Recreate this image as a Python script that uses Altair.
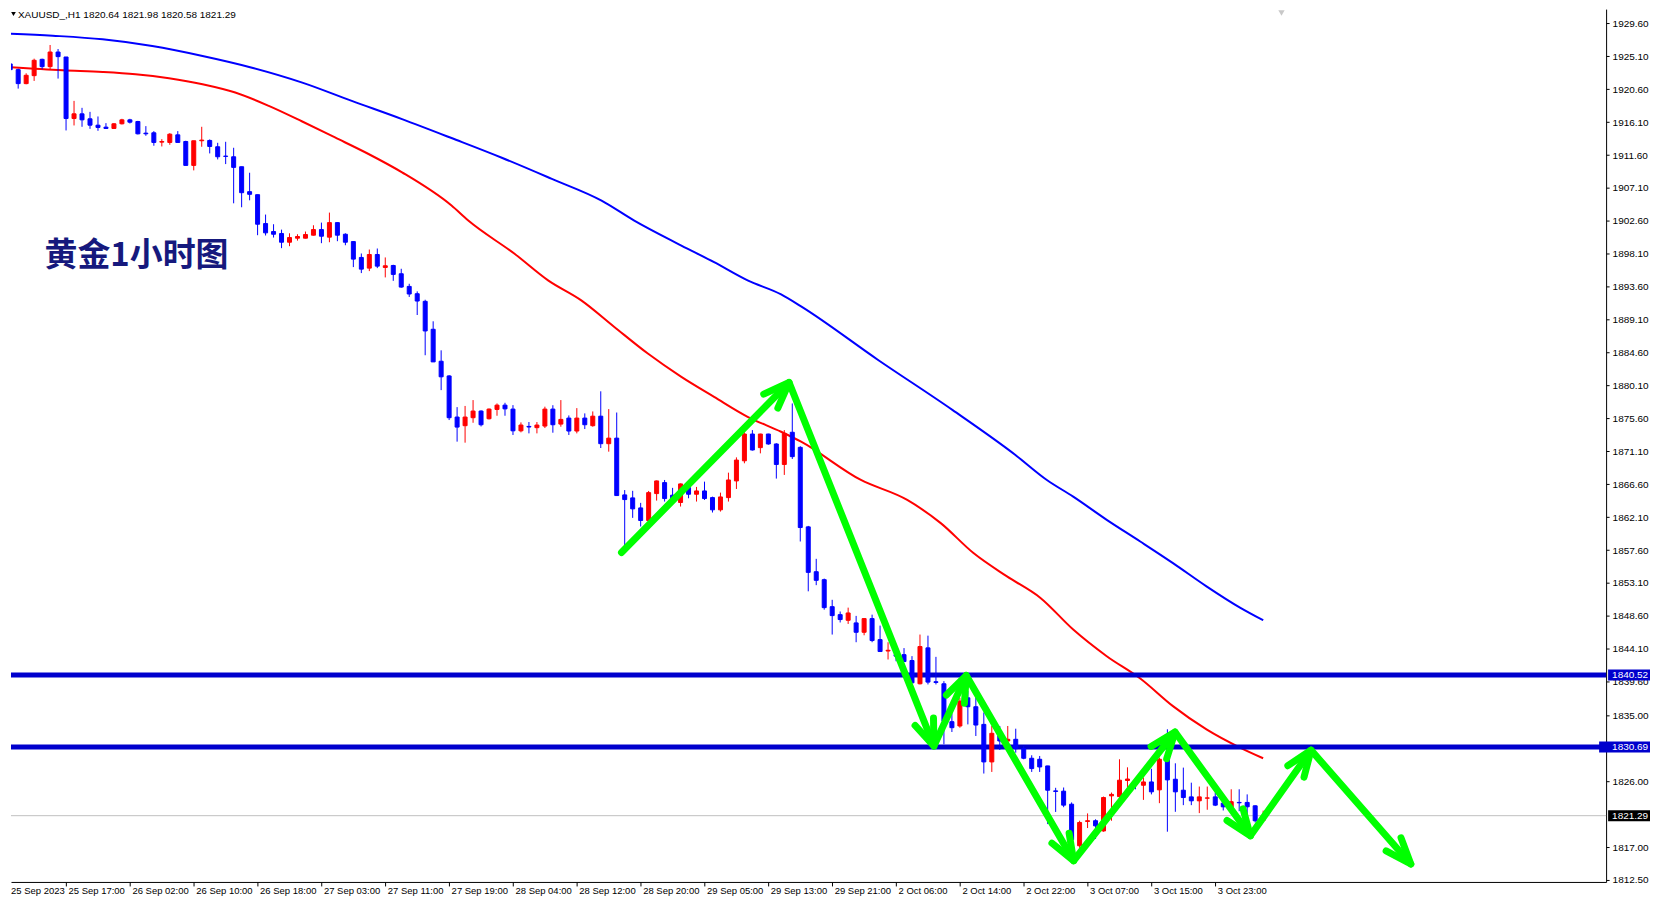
import math
import altair as alt
import pandas as pd

# ---------------- data ----------------
FIRST_BAR = -8  # bar index of the first (partly hidden) candle; bar 0 = 25 Sep 17:00

opens = [1921.37, 1924.05, 1923.27, 1921.36, 1922.45, 1924.68, 1923.68, 1925.68,
         1925.0, 1916.59, 1917.23, 1916.55, 1915.68, 1915.41, 1915.23, 1915.87,
         1916.41, 1916.18, 1914.59, 1914.64, 1913.36, 1913.32, 1914.36, 1913.45,
         1910.18, 1913.55, 1913.59, 1912.73, 1911.45, 1911.36, 1910.0, 1906.59,
         1906.18, 1902.23, 1901.14, 1900.87, 1899.68, 1900.23, 1900.23, 1900.64,
         1901.41, 1900.37, 1902.36, 1900.77, 1899.77, 1897.6, 1896.14, 1898.0,
         1896.23, 1896.5, 1895.37, 1893.64, 1892.64, 1891.6, 1887.78, 1883.41,
         1881.4, 1875.78, 1874.6, 1875.69, 1876.6, 1875.55, 1876.82, 1877.41,
         1876.87, 1873.9, 1874.5, 1874.33, 1874.55, 1876.87, 1874.82, 1875.64,
         1873.87, 1875.64, 1874.6, 1875.9, 1872.14, 1872.9, 1865.14, 1864.73,
         1863.36, 1861.64, 1865.32, 1866.82, 1865.1, 1864.1, 1866.14, 1865.23,
         1865.68, 1864.77, 1863.1, 1864.77, 1867.05, 1869.8, 1873.46, 1871.6,
         1873.46, 1872.1, 1869.3, 1873.7, 1871.64, 1860.77, 1854.64, 1853.55,
         1849.86, 1848.77, 1848.0, 1847.64, 1846.36, 1848.23, 1845.36, 1843.8,
         1843.3, 1843.3, 1842.5, 1839.32, 1844.23, 1839.6, 1839.32, 1834.14,
         1833.55, 1837.4, 1836.18, 1833.77, 1828.64, 1832.18, 1831.5, 1831.73,
         1830.45, 1829.14, 1829.0, 1828.09, 1824.68, 1824.64, 1822.86, 1817.18,
         1820.5, 1820.6, 1819.2, 1824.0, 1823.9, 1826.1, 1826.0, 1825.45,
         1825.9, 1824.82, 1829.0, 1826.27, 1824.77, 1823.86, 1823.32, 1823.68,
         1823.86, 1823.0, 1822.4, 1823.1, 1823.1, 1822.64, 1820.64]
highs = [1924.0, 1926.91, 1923.4, 1922.77, 1924.77, 1924.77, 1926.64, 1926.09,
         1925.0, 1919.0, 1918.05, 1917.5, 1916.87, 1915.96, 1915.96, 1916.55,
         1916.55, 1916.27, 1915.55, 1914.87, 1913.77, 1914.59, 1914.87, 1913.55,
         1913.55, 1915.46, 1913.73, 1913.27, 1913.41, 1912.59, 1910.0, 1909.18,
         1906.18, 1903.46, 1902.14, 1901.4, 1900.9, 1900.77, 1901.14, 1902.0,
         1902.36, 1903.73, 1902.4, 1900.9, 1899.8, 1898.14, 1898.68, 1898.82,
         1897.6, 1896.6, 1896.05, 1894.0, 1892.96, 1891.82, 1888.87, 1884.9,
         1881.5, 1877.14, 1877.3, 1878.1, 1876.7, 1876.95, 1877.64, 1877.73,
         1877.41, 1875.05, 1875.1, 1875.1, 1877.2, 1877.4, 1878.1, 1876.0,
         1877.0, 1876.28, 1876.55, 1879.3, 1876.87, 1876.4, 1865.8, 1865.7,
         1864.05, 1865.68, 1867.1, 1867.18, 1866.1, 1866.7, 1866.73, 1866.23,
         1866.95, 1864.9, 1865.45, 1868.18, 1870.27, 1873.7, 1874.0, 1873.5,
         1873.5, 1872.2, 1874.0, 1877.64, 1871.8, 1860.9, 1856.4, 1853.7,
         1850.8, 1849.2, 1849.73, 1848.6, 1848.3, 1848.77, 1847.27, 1845.0,
         1844.2, 1844.2, 1843.1, 1846.05, 1845.9, 1843.0, 1839.68, 1835.27,
         1837.4, 1838.32, 1837.4, 1835.4, 1833.55, 1833.55, 1833.55, 1833.18,
         1830.8, 1829.55, 1829.45, 1828.1, 1825.1, 1825.14, 1823.1, 1820.6,
         1821.6, 1820.8, 1823.9, 1824.45, 1829.0, 1827.9, 1826.3, 1826.5,
         1827.7, 1829.23, 1833.1, 1828.45, 1827.86, 1825.8, 1825.27, 1825.27,
         1824.45, 1824.2, 1824.9, 1824.9, 1824.2, 1822.7, 1821.98]
lows = [1921.0, 1922.18, 1920.68, 1921.27, 1921.73, 1923.32, 1923.32, 1922.05,
        1914.96, 1915.64, 1915.46, 1915.18, 1914.91, 1915.18, 1915.18, 1915.78,
        1915.91, 1914.41, 1914.23, 1912.87, 1912.77, 1913.0, 1913.32, 1910.18,
        1909.5, 1912.73, 1911.82, 1911.0, 1910.36, 1905.0, 1904.46, 1905.41,
        1900.64, 1900.6, 1900.32, 1898.87, 1899.14, 1899.9, 1900.2, 1900.6,
        1899.55, 1899.68, 1899.82, 1899.27, 1896.28, 1895.46, 1895.73, 1896.14,
        1894.87, 1894.4, 1893.46, 1892.2, 1889.73, 1884.23, 1883.32, 1879.46,
        1875.37, 1872.42, 1872.28, 1875.0, 1874.5, 1875.45, 1875.96, 1875.96,
        1873.33, 1873.69, 1873.55, 1873.55, 1874.28, 1873.64, 1874.46, 1873.33,
        1873.55, 1874.14, 1874.46, 1871.55, 1871.05, 1865.0, 1857.86, 1862.0,
        1860.82, 1861.5, 1864.36, 1864.23, 1864.1, 1863.55, 1864.68, 1864.23,
        1864.45, 1862.73, 1862.86, 1864.23, 1865.95, 1869.46, 1871.2, 1870.82,
        1872.0, 1867.37, 1867.87, 1870.05, 1858.77, 1851.96, 1852.8, 1849.45,
        1846.05, 1847.7, 1847.5, 1845.0, 1845.95, 1845.0, 1843.7, 1842.64,
        1842.4, 1842.3, 1839.4, 1839.23, 1839.23, 1839.23, 1831.05, 1832.73,
        1833.32, 1833.77, 1832.18, 1827.05, 1827.27, 1830.27, 1830.82, 1829.9,
        1829.0, 1827.27, 1827.27, 1820.14, 1821.8, 1822.45, 1816.6, 1816.9,
        1819.6, 1818.1, 1819.1, 1820.6, 1823.64, 1823.8, 1824.9, 1823.45,
        1824.2, 1823.0, 1819.1, 1821.82, 1822.73, 1822.73, 1821.64, 1822.1,
        1822.6, 1822.0, 1822.0, 1821.9, 1821.5, 1820.36, 1820.58]
closes = [1923.77, 1923.27, 1921.36, 1922.5, 1924.55, 1923.68, 1925.68, 1925.05,
          1916.59, 1917.23, 1916.41, 1915.68, 1915.37, 1915.23, 1915.87, 1916.41,
          1916.09, 1914.5, 1914.5, 1913.32, 1913.45, 1914.45, 1913.32, 1910.18,
          1913.55, 1913.64, 1912.77, 1911.36, 1911.41, 1909.91, 1906.45, 1906.23,
          1902.14, 1900.96, 1900.77, 1899.68, 1900.32, 1900.46, 1900.73, 1901.41,
          1900.5, 1902.36, 1900.64, 1899.68, 1897.37, 1896.0, 1898.0, 1896.41,
          1896.46, 1895.28, 1893.55, 1892.6, 1891.64, 1887.55, 1883.32, 1881.28,
          1875.69, 1874.41, 1875.78, 1876.6, 1874.73, 1876.87, 1877.41, 1876.9,
          1873.9, 1874.69, 1874.42, 1874.69, 1876.87, 1874.73, 1875.46, 1873.87,
          1875.64, 1874.73, 1875.9, 1872.14, 1872.9, 1865.05, 1864.5, 1863.23,
          1861.64, 1865.45, 1867.05, 1864.64, 1864.45, 1866.64, 1865.23, 1865.68,
          1864.64, 1863.1, 1864.86, 1867.18, 1869.9, 1873.46, 1871.28, 1873.46,
          1872.1, 1869.3, 1873.55, 1870.37, 1860.68, 1854.55, 1853.46, 1849.73,
          1848.64, 1848.1, 1849.0, 1846.36, 1848.23, 1845.23, 1843.73, 1843.9,
          1843.1, 1842.36, 1839.45, 1844.41, 1839.55, 1839.5, 1834.23, 1833.32,
          1836.95, 1836.18, 1833.68, 1828.64, 1832.55, 1831.5, 1831.73, 1830.45,
          1829.14, 1827.73, 1827.95, 1824.77, 1824.6, 1822.73, 1818.0, 1820.36,
          1820.6, 1819.9, 1823.77, 1824.2, 1826.14, 1826.3, 1825.6, 1825.9,
          1824.55, 1829.0, 1826.18, 1824.55, 1823.77, 1823.32, 1823.86, 1823.72,
          1822.73, 1822.5, 1823.2, 1823.05, 1822.5, 1820.6, 1821.29]

tick_bars = [0, 8, 16, 24, 32, 40, 48, 56, 64, 72, 80, 88, 96, 104, 112, 120, 128, 136, 144]
tick_labels = ["25 Sep 17:00", "26 Sep 02:00", "26 Sep 10:00", "26 Sep 18:00",
               "27 Sep 03:00", "27 Sep 11:00", "27 Sep 19:00", "28 Sep 04:00",
               "28 Sep 12:00", "28 Sep 20:00", "29 Sep 05:00", "29 Sep 13:00",
               "29 Sep 21:00", "2 Oct 06:00", "2 Oct 14:00", "2 Oct 22:00",
               "3 Oct 07:00", "3 Oct 15:00", "3 Oct 23:00"]
first_date_label = "25 Sep 2023"

price_ticks = [1929.6, 1925.1, 1920.6, 1916.1, 1911.6, 1907.1, 1902.6, 1898.1,
               1893.6, 1889.1, 1884.6, 1880.1, 1875.6, 1871.1, 1866.6, 1862.1,
               1857.6, 1853.1, 1848.6, 1844.1, 1839.6, 1835.0, 1826.0, 1817.0, 1812.5]

red_ma_bars = [-7.92, -0.42, 4.58, 8.7, 12.9, 17.1, 21.2, 25.4, 29.6, 33.7, 37.9,
               42.1, 48.3, 50.4, 56.2, 60.4, 64.6, 68.7, 72.9, 77.1, 81.2, 85.4,
               89.6, 92.1, 99.6, 105.4, 109.6, 113.7, 117.9, 122.1, 126.2, 130.4,
               134.6, 138.7, 142.9, 147.1, 150]
red_ma_vals = [1923.68, 1923.19, 1922.96, 1922.65, 1922.1, 1921.28, 1920.14, 1918.32,
               1916.18, 1914.0, 1911.74, 1909.23, 1904.69, 1902.64, 1898.1, 1894.46,
               1891.7, 1888.1, 1884.46, 1881.27, 1878.54, 1875.82, 1873.77, 1872.41,
               1867.18, 1864.45, 1861.28, 1857.19, 1854.0, 1851.05, 1846.73, 1843.09,
               1840.05, 1836.27, 1833.09, 1830.6, 1829.14]

blue_ma_bars = [-7.92, -1.67, 4.58, 10.8, 17.1, 23.3, 29.6, 35.8, 42.1, 48.3, 54.6,
                60.8, 67.1, 71.2, 77.1, 81.2, 85.4, 89.6, 92.1, 101.8, 111.1, 118.96,
                122.9, 126.2, 130.4, 134.6, 138.7, 142.9, 147.1, 150]
blue_ma_vals = [1928.24, 1927.91, 1927.42, 1926.5, 1925.14, 1923.54, 1921.5, 1919.0,
                1916.51, 1913.92, 1911.23, 1908.37, 1905.37, 1902.64, 1899.23, 1896.95,
                1894.46, 1892.55, 1890.91, 1883.55, 1876.73, 1870.6, 1867.18, 1864.9,
                1861.73, 1858.77, 1855.82, 1852.64, 1849.73, 1848.0]

arrow_bars = [69.6, 90.6, 108.75, 112.8, 126.25, 138.96, 148.4, 156.0, 168.5]
arrow_prices = [1857.27, 1880.5, 1830.81, 1840.46, 1815.13, 1832.72, 1818.54, 1830.25, 1814.68]

level_prices = [1840.52, 1830.69]
last_price = 1821.29

header_text = "XAUUSD_,H1  1820.64 1821.98 1820.58 1821.29"
cn_title = "黄金1小时图"
cn_title_bar = -2.7
cn_title_price = 1897.8
shift_marker_bar = 152.3

# ---------------- layout ----------------
W, H = 1599, 875
X_DOMAIN = [-6.9, 192.975]
Y_DOMAIN = [1812.23, 1931.55]
PXX = W / (X_DOMAIN[1] - X_DOMAIN[0])
PXY = H / (Y_DOMAIN[1] - Y_DOMAIN[0])

FONT = "Liberation Sans"
AXIS_FS = 10
BLUE = "#0000ff"
RED = "#ff0000"
LEVEL = "#0000cd"
GREEN = "#00ff00"

bars = list(range(FIRST_BAR, FIRST_BAR + len(opens)))
candles = pd.DataFrame({"bar": bars, "o": opens, "h": highs, "l": lows, "c": closes})
candles["col"] = [RED if c >= o else BLUE for o, c in zip(opens, closes)]
candles["x0"] = candles["bar"] - 0.25
candles["x1"] = candles["bar"] + 0.25

red_ma = pd.DataFrame({"bar": red_ma_bars, "v": red_ma_vals})
blue_ma = pd.DataFrame({"bar": blue_ma_bars, "v": blue_ma_vals})

arrows = pd.DataFrame({"bar": arrow_bars, "p": arrow_prices, "i": range(len(arrow_bars))})
heads = []
for i in range(1, len(arrow_bars)):
    dx = (arrow_bars[i] - arrow_bars[i - 1]) * PXX
    dy = -(arrow_prices[i] - arrow_prices[i - 1]) * PXY
    ang = math.degrees(math.atan2(dy, dx)) % 360
    heads.append({"bar": arrow_bars[i], "p": arrow_prices[i], "ang": ang})
heads = pd.DataFrame(heads)

levels = pd.DataFrame({"p": level_prices})
lastp = pd.DataFrame({"p": [last_price]})

half_h = 5.5 / PXY
boxes = pd.DataFrame({
    "p": level_prices + [last_price],
    "lab": [f"{v:.2f}" for v in level_prices + [last_price]],
    "bg": [LEVEL, LEVEL, "#000000"],
    "bx": [W + 2, W - 7, W + 2],
    "bx2": [W + 44, W + 44, W + 44],
})
boxes["lo"] = boxes["p"] - half_h
boxes["hi"] = boxes["p"] + half_h

label_expr = "[" + ",".join(f"'{t}'" for t in tick_labels) + "][round(datum.value/8)]"

XS = alt.Scale(domain=X_DOMAIN, nice=False, zero=False)
YS = alt.Scale(domain=Y_DOMAIN, nice=False, zero=False)
x_axis = alt.Axis(values=tick_bars, labelExpr=label_expr, tickSize=4, labelPadding=0,
                  labelAlign="left", labelOffset=2, labelFont=FONT, labelFontSize=9.5,
                  labelColor="#000000", tickColor="#000000", domainColor="#000000",
                  labelOverlap=False, labelBound=False, labelFlush=False, grid=False,
                  title=None)
y_axis = alt.Axis(orient="right", values=price_ticks, format=".2f", tickSize=3,
                  labelPadding=3, labelFont=FONT, labelFontSize=AXIS_FS, labelColor="#000000",
                  tickColor="#000000", domainColor="#000000", labelOverlap=False,
                  labelBound=False, labelFlush=False, grid=False, title=None)


def X(f):
    return alt.X(f, type="quantitative", scale=XS, axis=x_axis, title=None)


def Y(f):
    return alt.Y(f, type="quantitative", scale=YS, axis=y_axis, title=None)


ma_red = alt.Chart(red_ma).mark_line(color=RED, strokeWidth=2, clip=True,
                                     interpolate="monotone").encode(x=X("bar"), y=Y("v"))
ma_blue = alt.Chart(blue_ma).mark_line(color=BLUE, strokeWidth=2, clip=True,
                                       interpolate="monotone").encode(x=X("bar"), y=Y("v"))

last_line = alt.Chart(lastp).mark_rule(color="#c0c0c0", strokeWidth=1).encode(y=Y("p"))
level_lines = alt.Chart(levels).mark_rule(color=LEVEL, strokeWidth=5).encode(y=Y("p"))

wicks = alt.Chart(candles).mark_rule(strokeWidth=1, clip=True).encode(
    x=X("bar"), y=Y("l"), y2="h", color=alt.Color("col:N", scale=None))
bodies = alt.Chart(candles).mark_rect(strokeWidth=1, clip=True).encode(
    x=X("x0"), x2="x1", y=Y("o"), y2="c",
    color=alt.Color("col:N", scale=None), stroke=alt.Stroke("col:N", scale=None))

arrow_line = alt.Chart(arrows).mark_line(
    color=GREEN, strokeWidth=7, strokeCap="round", strokeJoin="round").encode(
    x=X("bar"), y=Y("p"), order="i:Q")
arrow_heads = alt.Chart(heads).mark_point(
    shape="M -1 -0.38 L 0 0 L -1 0.38", filled=False, color=GREEN, strokeWidth=7,
    strokeCap="round", strokeJoin="round", size=2740, opacity=1).encode(
    x=X("bar"), y=Y("p"), angle=alt.Angle("ang:Q", scale=None))

cn = alt.Chart(pd.DataFrame({"bar": [cn_title_bar], "p": [cn_title_price], "t": [cn_title]})).mark_text(
    font="Noto Sans CJK SC", fontSize=33, fontWeight="bold", color="#16197d",
    align="left", baseline="middle").encode(x=X("bar"), y=Y("p"), text="t:N")

hdr = alt.Chart(pd.DataFrame({"t": [header_text]})).mark_text(
    font=FONT, fontSize=10, color="#000000", align="left", baseline="middle").encode(
    x=alt.value(7), y=alt.value(6), text="t:N")
hdr_tri = alt.Chart(pd.DataFrame({"a": [0]})).mark_point(
    shape="triangle-down", filled=True, color="#000000", size=22, opacity=1).encode(
    x=alt.value(2.5), y=alt.value(5))

shift_marker = alt.Chart(pd.DataFrame({"bar": [shift_marker_bar]})).mark_point(
    shape="triangle-down", filled=True, color="#c8c8c8", size=40, opacity=1).encode(
    x=X("bar"), y=alt.value(4))

first_lab = alt.Chart(pd.DataFrame({"t": [first_date_label]})).mark_text(
    font=FONT, fontSize=9.5, color="#000000", align="left", baseline="top").encode(
    x=alt.value(0), y=alt.value(H + 4), text="t:N")

box_rects = alt.Chart(boxes).mark_rect().encode(
    x=alt.X("bx:Q", scale=None), x2="bx2:Q", y=Y("lo"), y2="hi",
    color=alt.Color("bg:N", scale=None))
box_text = alt.Chart(boxes).mark_text(
    font=FONT, fontSize=AXIS_FS, color="#ffffff", align="left", baseline="middle").encode(
    x=alt.value(W + 6), y=Y("p"), text="lab:N")

chart = alt.layer(
    last_line, ma_blue, ma_red, level_lines, wicks, bodies, arrow_line, arrow_heads,
    cn, hdr, hdr_tri, shift_marker, first_lab, box_rects, box_text
).properties(width=W, height=H, padding=0, background="#ffffff").configure_view(stroke=None)

chart.save("out.html", embed_options={"renderer": "svg", "actions": False})
